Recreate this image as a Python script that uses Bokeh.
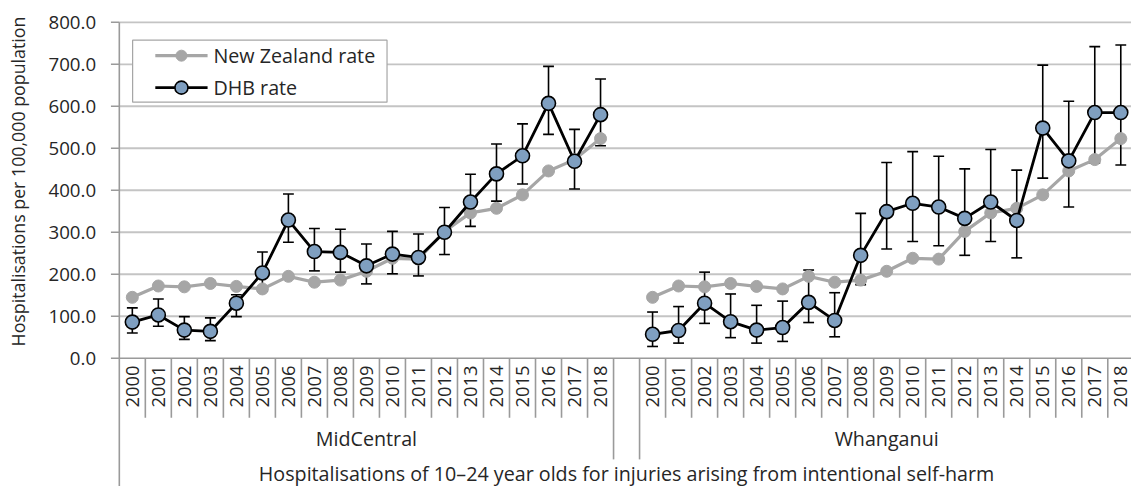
import math
from bokeh.plotting import figure
from bokeh.models import Range1d
from bokeh.embed import file_html
from bokeh.resources import INLINE
from bokeh.core.properties import value

# ---------------- data ----------------
years = [str(y) for y in range(2000, 2019)]
districts = ["MidCentral", "Whanganui"]
nz_rate = [145, 172, 170, 178, 171, 165, 195, 181, 186, 207, 238, 236, 302, 346, 357, 389, 446, 473, 523]
mc_rate = [86, 103, 67, 64, 131, 203, 329, 254, 252, 220, 248, 240, 300, 372, 439, 482, 607, 469, 580]
mc_upper = [120, 141, 99, 96, 151, 253, 391, 309, 307, 272, 302, 296, 359, 438, 510, 558, 695, 545, 665]
mc_lower = [60, 76, 45, 42, 99, 160, 276, 208, 205, 177, 201, 196, 247, 314, 374, 415, 533, 403, 506]
wh_rate = [57, 66, 131, 87, 67, 73, 133, 90, 245, 349, 369, 360, 333, 372, 328, 548, 470, 585, 585]
wh_upper = [110, 123, 205, 153, 126, 136, 210, 156, 345, 466, 492, 481, 451, 497, 448, 698, 612, 742, 746]
wh_lower = [28, 36, 83, 49, 36, 40, 85, 51, 175, 260, 278, 268, 245, 278, 239, 429, 360, 465, 460]
y_ticks = [0, 100, 200, 300, 400, 500, 600, 700, 800]
y_tick_labels = ["0.0", "100.0", "200.0", "300.0", "400.0", "500.0", "600.0", "700.0", "800.0"]
y_title = "Hospitalisations per 100,000 population"
x_title = "Hospitalisations of 10\u201324 year olds for injuries arising from intentional self-harm"
legend_labels = ["New Zealand rate", "DHB rate"]

# ---------------- geometry ----------------
# layout positions are given in reference-image pixels (1147 x 502) and the
# figure maps that whole area onto its canvas.
REF_W, REF_H = 1147, 502
W, H = 1131, 486
SX, SY = W / REF_W, H / REF_H
AX_X = 120.5          # x of the value axis
CAT_W = 26.38         # width of one category
Y0 = 369.5            # y of value 0
PPU = 347.0 / 800.0   # pixels per value unit


def dx(px):
    return (px - AX_X) / CAT_W


def dy(py):
    return (Y0 - py) / PPU


def fs(px, vertical=False):
    return "%.1fpx" % (px * (SY if vertical else SX))


FONT = value("Open Sans")
TXT = "#262626"
GRID = "#C4C4C4"
AXC = "#9A9A9A"
GRAY = "#A6A6A6"
BLUE = "#7F9FC0"

p = figure(width=W, height=H, output_backend="svg", toolbar_location=None,
           x_range=Range1d(dx(0), dx(REF_W)), y_range=Range1d(dy(REF_H), dy(0)),
           x_axis_location=None, y_axis_location=None, min_border=0,
           outline_line_color=None, background_fill_color="white", border_fill_color="white")
p.xgrid.visible = False
p.ygrid.visible = False

n = len(years)
mc_x = [i + 0.5 for i in range(n)]
wh_x = [n + 1 + i + 0.5 for i in range(n)]
x_end = 2 * n + 1

# gridlines
gl = [t for t in y_ticks if t > 0]
p.segment(x0=[0] * len(gl), x1=[x_end] * len(gl), y0=gl, y1=gl, line_color=GRID, line_width=1.8)
# category axis line
p.segment(x0=[0], x1=[x_end], y0=[0], y1=[0], line_color=AXC, line_width=1.6)
# value axis line + ticks
p.segment(x0=[0], x1=[0], y0=[y_ticks[-1]], y1=[dy(REF_H + 10)], line_color=AXC, line_width=1.6)
p.segment(x0=[dx(112)] * len(y_ticks), x1=[0] * len(y_ticks), y0=y_ticks, y1=y_ticks,
          line_color=AXC, line_width=1.6)
# category separators
short_b = [b for b in range(1, x_end + 1) if b not in (n, n + 1)]
p.segment(x0=short_b, x1=short_b, y0=[0] * len(short_b), y1=[dy(431)] * len(short_b),
          line_color=AXC, line_width=1.6)
long_b = [n, n + 1]
p.segment(x0=long_b, x1=long_b, y0=[0, 0], y1=[dy(474)] * 2, line_color=AXC, line_width=1.6)

# error bars
cap = 5.5 / CAT_W
ex = mc_x + wh_x
eu = mc_upper + wh_upper
el = mc_lower + wh_lower
p.segment(x0=ex, x1=ex, y0=el, y1=eu, line_color="black", line_width=1.6)
p.segment(x0=[x - cap for x in ex], x1=[x + cap for x in ex], y0=eu, y1=eu, line_color="black", line_width=1.6)
p.segment(x0=[x - cap for x in ex], x1=[x + cap for x in ex], y0=el, y1=el, line_color="black", line_width=1.6)

# NZ rate series
for xs in (mc_x, wh_x):
    p.line(xs, nz_rate, line_color=GRAY, line_width=3.2)
    p.scatter(xs, nz_rate, size=12, marker="circle", fill_color=GRAY, line_color=GRAY, line_width=1)

# DHB series
for xs, ys in ((mc_x, mc_rate), (wh_x, wh_rate)):
    p.line(xs, ys, line_color="black", line_width=2.8)
    p.scatter(xs, ys, size=14, marker="circle", fill_color=BLUE, line_color="black", line_width=1.6)

# legend (drawn manually)
p.quad(left=[dx(134)], right=[dx(392)], top=[dy(41)], bottom=[dy(105)],
       fill_color="white", line_color="#A6A6A6", line_width=1.2)
ly = [dy(57), dy(90)]
p.segment(x0=[dx(157)], x1=[dx(210)], y0=[ly[0]], y1=[ly[0]], line_color=GRAY, line_width=3.2)
p.scatter([dx(183.5)], [ly[0]], size=11, marker="circle", fill_color=GRAY, line_color=GRAY)
p.segment(x0=[dx(157)], x1=[dx(210)], y0=[ly[1]], y1=[ly[1]], line_color="black", line_width=2.8)
p.scatter([dx(183.5)], [ly[1]], size=13, marker="circle", fill_color=BLUE, line_color="black", line_width=1.6)
p.text(x=[dx(216)] * 2, y=ly, text=legend_labels, text_font=FONT, text_font_size=fs(20),
       text_color=TXT, text_align="left", text_baseline="middle")

# value axis tick labels
p.text(x=[dx(97)] * len(y_ticks), y=y_ticks, text=y_tick_labels, text_font=FONT, text_font_size=fs(19),
       text_color=TXT, text_align="right", text_baseline="middle")
# value axis title
p.text(x=[dx(18)], y=[dy(187)], text=[y_title], angle=math.pi / 2, text_font=FONT,
       text_font_size=fs(18.4, True), text_color=TXT, text_align="center", text_baseline="middle")
# year labels
p.text(x=mc_x + wh_x, y=[dy(377)] * (2 * n), text=years + years, angle=math.pi / 2, text_font=FONT,
       text_font_size=fs(19, True), text_color=TXT, text_align="right", text_baseline="middle")
# district labels
p.text(x=[n / 2, n + 1 + n / 2], y=[dy(452)] * 2, text=districts, text_font=FONT, text_font_size=fs(20),
       text_color=TXT, text_align="center", text_baseline="middle")
# category axis title
p.text(x=[x_end / 2], y=[dy(489)], text=[x_title], text_font=FONT, text_font_size=fs(20),
       text_color=TXT, text_align="center", text_baseline="middle")

open("out.html", "w").write(file_html(p, INLINE))
